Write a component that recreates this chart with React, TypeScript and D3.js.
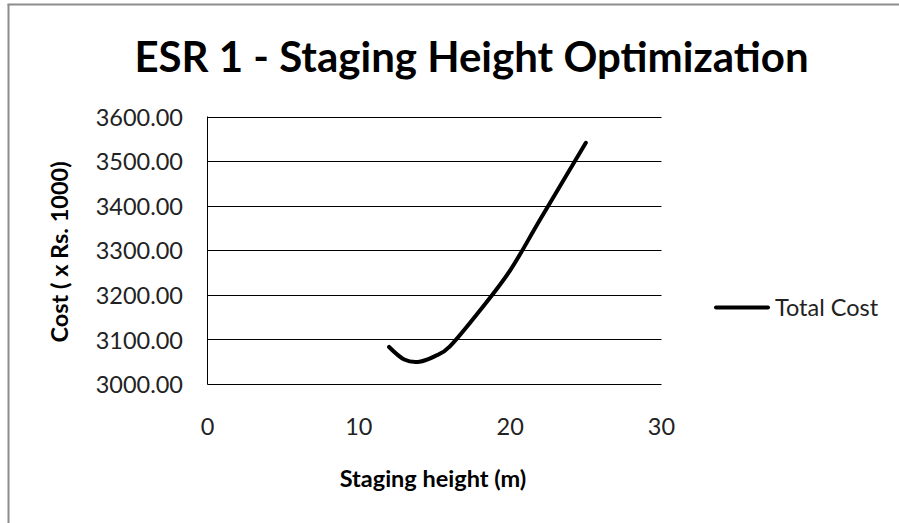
import React from "react";
import * as d3 from "d3";

// Staging height (m) and total cost (x Rs. 1000)
const heights = [12, 13, 14, 15, 16, 18, 20, 22, 25];
const totalCost = [3083, 3055, 3050, 3062, 3084, 3165, 3255, 3370, 3541];

const xTicks = [0, 10, 20, 30];
const yTicks = [3000, 3100, 3200, 3300, 3400, 3500, 3600];

const titleText = "ESR 1 - Staging Height Optimization";
const xTitle = "Staging height (m)";
const yTitle = "Cost ( x Rs. 1000)";
const seriesName = "Total Cost";

const W = 899;
const H = 523;
const FONT = "Lato, 'Open Sans', sans-serif";
const SMALL = 23.5;

export default function App() {
  const plot = { left: 207.5, right: 661.5, top: 116.5, bottom: 384 };
  const x = d3.scaleLinear().domain([0, 30]).range([plot.left, plot.right]);
  const y = d3.scaleLinear().domain([3000, 3600]).range([plot.bottom, plot.top]);

  const pts = heights.map((h, i) => [h, totalCost[i]] as [number, number]);
  const line = d3
    .line<[number, number]>()
    .x((d) => x(d[0]))
    .y((d) => y(d[1]))
    .curve(d3.curveCardinal.tension(0));

  return (
    <svg
      width={W}
      height={H}
      style={{ position: "absolute", left: 0, top: 0, background: "#fff" }}
    >
      <rect x={0} y={0} width={W} height={H} fill="#fff" />
      {/* chart frame: only top and left edges are visible */}
      <line x1={7.5} y1={4.5} x2={W} y2={4.5} stroke="#8c8c8c" strokeWidth={2} />
      <line x1={8.5} y1={4} x2={8.5} y2={H} stroke="#8c8c8c" strokeWidth={2} />

      <text
        x={471.5}
        y={72}
        textAnchor="middle"
        fontFamily={FONT}
        fontWeight="bold"
        fontSize={42}
        fill="#000"
      >
        {titleText}
      </text>

      {/* horizontal gridlines */}
      {yTicks.map((t) => (
        <line
          key={t}
          x1={plot.left}
          x2={plot.right}
          y1={Math.round(y(t)) + 0.5}
          y2={Math.round(y(t)) + 0.5}
          stroke="#000"
          strokeWidth={1}
        />
      ))}
      {/* y axis line */}
      <line
        x1={plot.left}
        x2={plot.left}
        y1={plot.top}
        y2={plot.bottom + 0.5}
        stroke="#000"
        strokeWidth={1}
      />

      {yTicks.map((t) => (
        <text
          key={t}
          x={183}
          y={y(t) + 1}
          dy="0.35em"
          textAnchor="end"
          fontFamily={FONT}
          fontSize={SMALL}
          fill="#222"
        >
          {d3.format(".2f")(t)}
        </text>
      ))}

      {xTicks.map((t) => (
        <text
          key={t}
          x={x(t)}
          y={427}
          dy="0.35em"
          textAnchor="middle"
          fontFamily={FONT}
          fontSize={SMALL}
          fill="#222"
        >
          {t}
        </text>
      ))}

      <text
        x={433}
        y={487}
        textAnchor="middle"
        fontFamily={FONT}
        fontWeight="bold"
        fontSize={SMALL}
        fill="#000"
      >
        {xTitle}
      </text>

      <text
        transform={`translate(60,252) rotate(-90)`}
        dy="0.35em"
        textAnchor="middle"
        fontFamily={FONT}
        fontWeight="bold"
        fontSize={SMALL}
        fill="#000"
      >
        {yTitle}
      </text>

      <path
        d={line(pts) ?? ""}
        fill="none"
        stroke="#000"
        strokeWidth={4}
        strokeLinecap="round"
        strokeLinejoin="round"
      />

      {/* legend */}
      <line
        x1={716}
        x2={768}
        y1={307.5}
        y2={307.5}
        stroke="#000"
        strokeWidth={4}
        strokeLinecap="round"
      />
      <text
        x={775}
        y={307.5}
        dy="0.35em"
        fontFamily={FONT}
        fontSize={SMALL}
        fill="#222"
      >
        {seriesName}
      </text>
    </svg>
  );
}
